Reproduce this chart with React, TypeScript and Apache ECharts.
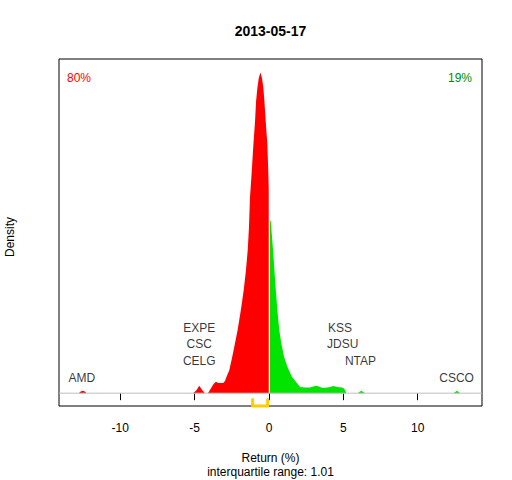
import React, { useEffect, useRef } from "react";
import * as echarts from "echarts";

// ---- data ----
const chartTitle = "2013-05-17";
const xTicks = [-10, -5, 0, 5, 10];
const xRange = [-14.12, 14.32];
const yRange = [-0.0201, 0.5242];

// density of returns below zero (red)
const lossDensity: [number, number][] = [
  [-12.9, 0], [-12.79, 0], [-12.66, 0.0027], [-12.53, 0.0039], [-12.39, 0.0027], [-12.26, 0],
  [-5.1, 0], [-4.88, 0.0047], [-4.69, 0.0118], [-4.51, 0.0055], [-4.31, 0], [-4.11, 0],
  [-3.97, 0.005], [-3.74, 0.014], [-3.57, 0.018], [-3.41, 0.016], [-3.08, 0.016], [-2.96, 0.019],
  [-2.85, 0.026], [-2.67, 0.036], [-2.47, 0.057], [-2.29, 0.078], [-2.11, 0.099], [-1.89, 0.131],
  [-1.7, 0.162], [-1.55, 0.193], [-1.43, 0.225], [-1.35, 0.259], [-1.28, 0.306], [-1.16, 0.348],
  [-1.05, 0.39], [-0.94, 0.426], [-0.87, 0.458], [-0.78, 0.479], [-0.69, 0.494], [-0.58, 0.503],
  [-0.47, 0.494], [-0.38, 0.479], [-0.31, 0.458], [-0.22, 0.426], [-0.11, 0.39], [-0.05, 0.348],
  [-0.02, 0.322], [-0.02, 0],
];

// density of returns above zero (green)
const gainDensity: [number, number][] = [
  [0.05, 0], [0.05, 0.271], [0.11, 0.271], [0.2, 0.246], [0.32, 0.209], [0.42, 0.173],
  [0.56, 0.131], [0.69, 0.099], [0.83, 0.078], [1.01, 0.057], [1.23, 0.042], [1.53, 0.026],
  [1.87, 0.016], [2.09, 0.0097], [2.42, 0.009], [2.76, 0.009], [2.96, 0.0105], [3.21, 0.0118],
  [3.43, 0.0097], [3.64, 0.0082], [3.91, 0.009], [4.11, 0.0097], [4.31, 0.0113], [4.58, 0.0097],
  [4.9, 0.009], [5.05, 0.0074], [5.21, 0], [5.96, 0], [6.2, 0.0039], [6.47, 0],
  [12.39, 0], [12.64, 0.0039], [12.86, 0], [13.0, 0],
];

// labelled stocks: name, return, stacking level
const stockNames = ["AMD", "CELG", "CSC", "EXPE", "NTAP", "JDSU", "KSS", "CSCO"];
const stockReturns = [-12.59, -4.69, -4.69, -4.69, 6.15, 4.96, 4.78, 12.61];
const stockLevels = [0, 1, 2, 3, 1, 2, 3, 0];

const quartiles = [-1.1, -0.09];
const iqrText = "interquartile range: 1.01";
const lossShare = "80%";
const gainShare = "19%";

const FONT = '"Liberation Sans", Arial, sans-serif';

export default function App() {
  const ref = useRef<HTMLDivElement>(null);

  useEffect(() => {
    document.body.style.margin = "0";
    if (!ref.current) return;
    const chart = echarts.init(ref.current, undefined, { renderer: "svg" });

    const labelLevelY = (lvl: number) => (15.5 + 16.7 * lvl) / 637;
    const stockPoints = stockNames.map((n, i) => ({
      name: n,
      value: [stockReturns[i], labelLevelY(stockLevels[i])],
    }));

    const bracketTop = -0.0099;
    const bracketData = [
      [quartiles[0], bracketTop],
      [quartiles[0], yRange[0]],
      [quartiles[1], yRange[0]],
      [quartiles[1], bracketTop],
    ];

    chart.setOption({
      animation: false,
      textStyle: { fontFamily: FONT },
      grid: {
        left: 59,
        right: 30,
        top: 59,
        bottom: 74,
        show: true,
        borderColor: "#000",
        borderWidth: 1,
        backgroundColor: "transparent",
      },
      xAxis: {
        type: "value",
        min: xRange[0],
        max: xRange[1],
        axisLine: { show: false },
        splitLine: { show: false },
        axisTick: {
          show: true,
          customValues: xTicks,
          length: 7,
          lineStyle: { color: "#000", width: 1 },
        },
        axisLabel: {
          show: true,
          customValues: xTicks,
          margin: 16,
          color: "#000",
          fontSize: 12,
          fontFamily: FONT,
        },
      },
      yAxis: {
        type: "value",
        min: yRange[0],
        max: yRange[1],
        show: false,
      },
      series: [
        {
          type: "line",
          data: lossDensity,
          symbol: "none",
          lineStyle: { width: 0 },
          areaStyle: { color: "#FF0000", opacity: 1, origin: 0 },
          itemStyle: { color: "#FF0000" },
          silent: true,
          z: 2,
        },
        {
          type: "line",
          data: gainDensity,
          symbol: "none",
          lineStyle: { width: 0 },
          areaStyle: { color: "#00E400", opacity: 1, origin: 0 },
          itemStyle: { color: "#00E400" },
          silent: true,
          z: 2,
        },
        {
          type: "line",
          data: [
            [xRange[0], 0],
            [xRange[1], 0],
          ],
          symbol: "none",
          lineStyle: { color: "#BEBEBE", width: 1 },
          silent: true,
          z: 3,
        },
        {
          type: "line",
          data: bracketData,
          symbol: "none",
          clip: false,
          lineStyle: { color: "#FFCC00", width: 3, cap: "round", join: "round" },
          silent: true,
          z: 5,
        },
        {
          type: "scatter",
          data: stockPoints,
          symbolSize: 0,
          silent: true,
          label: {
            show: true,
            position: "inside",
            formatter: "{b}",
            color: "#000",
            fontSize: 12,
            fontFamily: FONT,
          },
          z: 6,
        },
      ],
      graphic: [
        {
          type: "text",
          x: 270.5,
          y: 31,
          style: {
            text: chartTitle,
            font: `bold 14px ${FONT}`,
            fill: "#000",
            align: "center",
            verticalAlign: "middle",
          },
        },
        {
          type: "text",
          x: 67,
          y: 78,
          style: {
            text: lossShare,
            font: `12px ${FONT}`,
            fill: "#FF0000",
            align: "left",
            verticalAlign: "middle",
          },
        },
        {
          type: "text",
          x: 472,
          y: 78,
          style: {
            text: gainShare,
            font: `12px ${FONT}`,
            fill: "#008B00",
            align: "right",
            verticalAlign: "middle",
          },
        },
        {
          type: "text",
          x: 10,
          y: 237,
          rotation: Math.PI / 2,
          style: {
            text: "Density",
            font: `12px ${FONT}`,
            fill: "#000",
            align: "center",
            verticalAlign: "middle",
          },
        },
        {
          type: "text",
          x: 270.5,
          y: 458,
          style: {
            text: "Return (%)",
            font: `12px ${FONT}`,
            fill: "#000",
            align: "center",
            verticalAlign: "middle",
          },
        },
        {
          type: "text",
          x: 270.5,
          y: 471.5,
          style: {
            text: iqrText,
            font: `12px ${FONT}`,
            fill: "#000",
            align: "center",
            verticalAlign: "middle",
          },
        },
      ],
    });

    return () => chart.dispose();
  }, []);

  return <div ref={ref} style={{ width: 512, height: 480 }} />;
}
